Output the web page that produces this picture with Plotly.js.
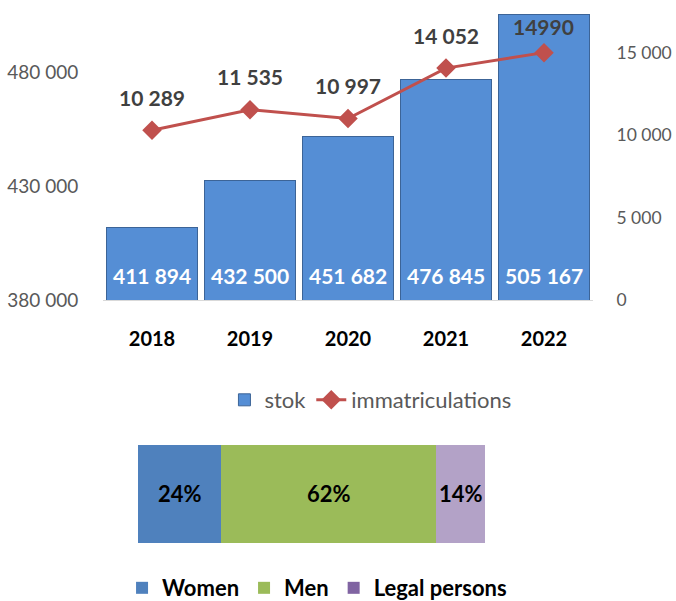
<!DOCTYPE html>
<html>
<head>
<meta charset="utf-8">
<script src="https://cdn.plot.ly/plotly-3.0.1.min.js"></script>
<style>
  html, body { margin: 0; padding: 0; background: #fff; }
  #chart { width: 676px; height: 601px; }
</style>
</head>
<body>
<div id="chart"></div>
<script>
// stock and new registrations per year
const years = ['2018', '2019', '2020', '2021', '2022'];
const stok = [411894, 432500, 451682, 476845, 505167];
const immatriculations = [10289, 11535, 10997, 14052, 14990];
const immatLabels = ['10 289', '11 535', '10 997', '14 052', '14990'];

// owners split (%)
const ownerGroups = ['Women', 'Men', 'Legal persons'];
const ownerShares = [24, 62, 14];

const stokMin = 380000;
const stokMax = 511580;
const immatMax = 18180;

const fmt = v => String(v).replace(/\B(?=(\d{3})+(?!\d))/g, ' ');
const FONT = 'Lato, "Open Sans", sans-serif';

const barColors = ['#4F81BD', '#9BBB59', '#B3A2C7'];
const legendColors = ['#4F81BD', '#9BBB59', '#8064A2'];

const traces = [
  {
    x: years, y: stok, type: 'bar', name: 'stok',
    xaxis: 'x', yaxis: 'y',
    marker: { color: '#558ED5', line: { color: '#3C6497', width: 1 } },
    legend: 'legend'
  },
  {
    x: years, y: immatriculations, type: 'scatter', mode: 'lines+markers',
    name: 'immatriculations', xaxis: 'x', yaxis: 'y2',
    line: { color: '#C0504D', width: 3 },
    marker: { symbol: 'diamond', size: 15, color: '#C0504D' },
    legend: 'legend'
  }
];

ownerGroups.forEach((g, i) => {
  traces.push({
    x: [ownerShares[i]], y: ['owners'], type: 'bar', orientation: 'h',
    name: g, xaxis: 'x2', yaxis: 'y3', width: 1,
    marker: { color: barColors[i] },
    showlegend: false
  });
});
// legend entries (swatch colours differ slightly from the bar fill)
ownerGroups.forEach((g, i) => {
  traces.push({
    x: [null], y: ['owners'], type: 'bar', orientation: 'h', name: g,
    xaxis: 'x2', yaxis: 'y3', marker: { color: legendColors[i] },
    legend: 'legend2'
  });
});

const annotations = [];
years.forEach((yr, i) => {
  annotations.push({
    x: i, y: stokMin, xref: 'x', yref: 'y', yshift: 25,
    text: fmt(stok[i]), showarrow: false,
    font: { family: FONT, size: 21, weight: 'bold', color: '#fff' }
  });
  annotations.push({
    x: i, y: immatriculations[i], xref: 'x', yref: 'y2', yshift: i === 4 ? 26 : 33,
    text: immatLabels[i], showarrow: false,
    font: { family: FONT, size: 21, weight: 'bold', color: '#404040' }
  });
});
// percentage labels centred in each stacked segment
let cum = 0;
ownerShares.forEach(s => {
  annotations.push({
    x: cum + s / 2, y: 0, xref: 'x2', yref: 'y3',
    text: s + '%', showarrow: false,
    font: { family: FONT, size: 22, weight: 'bold', color: '#000' }
  });
  cum += s;
});

const layout = {
  width: 676, height: 601,
  margin: { t: 0, b: 0, l: 0, r: 0, autoexpand: false },
  paper_bgcolor: '#fff', plot_bgcolor: 'rgba(0,0,0,0)',
  font: { family: FONT, color: '#595959' },
  separators: '. ',
  barmode: 'stack',
  bargap: 0.08,
  hovermode: false,
  showlegend: true,
  xaxis: {
    domain: [0.1524, 0.8772], type: 'category',
    categoryorder: 'array', categoryarray: years, range: [-0.5, years.length - 0.5],
    showline: true, linecolor: '#D9D9D9', linewidth: 1,
    ticks: 'outside', ticklen: 21, tickcolor: 'rgba(0,0,0,0)',
    tickfont: { family: FONT, size: 20, weight: 'bold', color: '#000' },
    showgrid: false, zeroline: false
  },
  yaxis: {
    domain: [0.5008, 1], range: [stokMin, stokMax],
    tick0: stokMin, dtick: 50000, tickformat: ',d',
    ticks: 'outside', ticklen: 20, tickcolor: 'rgba(0,0,0,0)',
    tickfont: { family: FONT, size: 19, color: '#595959' },
    showgrid: false, zeroline: false, showline: false
  },
  yaxis2: {
    overlaying: 'y', side: 'right', anchor: 'x',
    range: [0, immatMax], dtick: 5000, tickformat: ',d',
    ticks: 'outside', ticklen: 19, tickcolor: 'rgba(0,0,0,0)',
    tickfont: { family: FONT, size: 17.5, color: '#595959' },
    showgrid: false, zeroline: false, showline: false
  },
  xaxis2: {
    domain: [0.2041, 0.7175], range: [0, 100], anchor: 'y3',
    visible: false, fixedrange: true
  },
  yaxis3: {
    domain: [0.0965, 0.2596], range: [-0.5, 0.5], anchor: 'x2',
    type: 'category', visible: false
  },
  legend: {
    orientation: 'h', traceorder: 'normal',
    x: 0.548, xanchor: 'center', y: 0.3344, yanchor: 'middle',
    font: { family: FONT, size: 22, color: '#595959' }, bgcolor: 'rgba(0,0,0,0)'
  },
  legend2: {
    orientation: 'h', traceorder: 'normal',
    x: 0.469, xanchor: 'center', y: 0.0216, yanchor: 'middle',
    font: { family: FONT, size: 22, weight: 'bold', color: '#000' }, bgcolor: 'rgba(0,0,0,0)'
  },
  annotations: annotations
};

Plotly.newPlot('chart', traces, layout, { displayModeBar: false, staticPlot: true });
</script>
</body>
</html>
